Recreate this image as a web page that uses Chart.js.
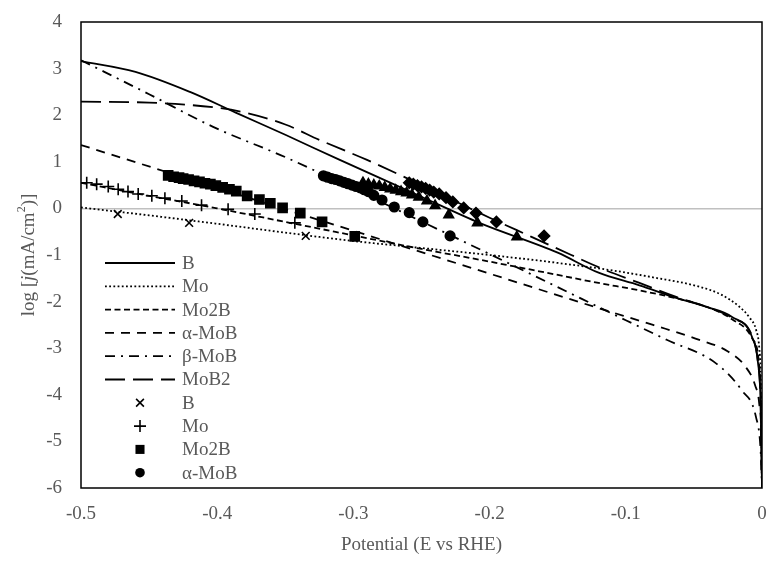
<!DOCTYPE html>
<html>
<head>
<meta charset="utf-8">
<script src="https://cdn.jsdelivr.net/npm/chart.js@4"></script>
<style>
  body { margin: 0; background: #fff; }
  #wrap { width: 770px; height: 561px; position: relative; }
</style>
</head>
<body>
<div id="wrap"><canvas id="myChart"></canvas></div>
<script>
// fitted curves, x = potential (V vs RHE), y = log j
const bX = [-0.5, -0.46, -0.42, -0.386, -0.35, -0.31, -0.25, -0.2075, -0.15, -0.12, -0.09, -0.063, -0.04, -0.022, -0.0073, -0.003, -0.001, 0];
const bY = [3.16, 2.93, 2.5, 2.05, 1.58, 1.04, 0.25, -0.31, -0.95, -1.38, -1.65, -1.92, -2.12, -2.33, -2.76, -3.3, -4.2, -6];

const moX = [-0.5, -0.45, -0.4, -0.35, -0.3, -0.25, -0.2, -0.15, -0.11, -0.08, -0.046, -0.03, -0.017, -0.009, -0.0044, -0.002, -0.001, 0];
const moY = [0.02, -0.15, -0.33, -0.52, -0.7, -0.85, -1.0, -1.17, -1.33, -1.48, -1.68, -1.85, -2.1, -2.35, -2.6, -3.0, -3.6, -6];

const mo2bX = [-0.5, -0.45, -0.4, -0.35, -0.3, -0.25, -0.2075, -0.16, -0.12, -0.09, -0.063, -0.04, -0.022, -0.007, -0.002, -0.0005, 0];
const mo2bY = [0.55, 0.27, 0.0, -0.29, -0.58, -0.87, -1.1, -1.37, -1.6, -1.76, -1.93, -2.12, -2.38, -2.8, -3.4, -4.5, -6];

const aMobX = [-0.5, -0.4, -0.3, -0.2, -0.12, -0.08, -0.046, -0.025, -0.012, -0.005, -0.002, -0.0005, 0];
const aMobY = [1.36, 0.44, -0.48, -1.4, -2.14, -2.5, -2.82, -3.07, -3.4, -3.8, -4.2, -4.9, -6];

const bMobX = [-0.5, -0.45, -0.403, -0.35, -0.3, -0.25, -0.2, -0.15, -0.1, -0.07, -0.034, -0.015, -0.0044, -0.001, 0];
const bMobY = [3.18, 2.45, 1.75, 1.1, 0.42, -0.28, -0.98, -1.69, -2.4, -2.82, -3.32, -3.9, -4.48, -5.2, -6];

const mob2X = [-0.5, -0.45, -0.4, -0.38, -0.35, -0.325, -0.29, -0.25, -0.2, -0.17, -0.14, -0.117, -0.09, -0.063, -0.04, -0.022, -0.007, -0.003, -0.001, 0];
const mob2Y = [2.29, 2.27, 2.16, 2.06, 1.8, 1.47, 1.04, 0.5, -0.2, -0.6, -1.0, -1.3, -1.6, -1.9, -2.12, -2.35, -2.76, -3.3, -4.2, -6];

// measured points
const bPtX = [-0.473, -0.4206, -0.335];
const bPtY = [-0.12, -0.31, -0.59];

const moPtX = [-0.4958, -0.4885, -0.48, -0.4727, -0.4655, -0.458, -0.448, -0.4384, -0.426, -0.4115, -0.392, -0.3724, -0.343];
const moPtY = [0.55, 0.52, 0.47, 0.41, 0.36, 0.31, 0.27, 0.22, 0.16, 0.07, -0.02, -0.12, -0.31];

const mo2bPtX = [-0.436, -0.432, -0.428, -0.425, -0.421, -0.417, -0.413, -0.409, -0.405, -0.401, -0.396, -0.391, -0.386, -0.378, -0.369, -0.361, -0.352, -0.339, -0.323, -0.299];
const mo2bPtY = [0.71, 0.68, 0.66, 0.64, 0.62, 0.59, 0.57, 0.54, 0.52, 0.49, 0.45, 0.41, 0.37, 0.27, 0.19, 0.11, 0.01, -0.10, -0.29, -0.60];

const aMobPtX = [-0.322, -0.319, -0.316, -0.313, -0.310, -0.307, -0.304, -0.301, -0.298, -0.295, -0.292, -0.289, -0.285, -0.279, -0.270, -0.259, -0.249, -0.229];
const aMobPtY = [0.70, 0.67, 0.64, 0.62, 0.59, 0.56, 0.53, 0.50, 0.47, 0.44, 0.40, 0.36, 0.28, 0.18, 0.03, -0.09, -0.29, -0.59];

const bMobPtX = [-0.293, -0.289, -0.285, -0.281, -0.277, -0.273, -0.269, -0.265, -0.261, -0.257, -0.252, -0.246, -0.240, -0.230, -0.209, -0.180];
const bMobPtY = [0.55, 0.52, 0.50, 0.48, 0.45, 0.42, 0.39, 0.36, 0.33, 0.29, 0.24, 0.16, 0.06, -0.14, -0.31, -0.61];

const mob2PtX = [-0.259, -0.256, -0.253, -0.250, -0.247, -0.244, -0.241, -0.237, -0.232, -0.227, -0.219, -0.210, -0.195, -0.160];
const mob2PtY = [0.55, 0.52, 0.49, 0.46, 0.43, 0.39, 0.35, 0.31, 0.23, 0.14, 0.01, -0.10, -0.29, -0.59];

function pts(xs, ys) {
  return xs.map((x, i) => ({ x: x, y: ys[i] }));
}

function curve(label, xs, ys, dash) {
  return {
    label: label, data: pts(xs, ys), showLine: true, inLegend: true,
    borderColor: '#000', borderWidth: 1.8, borderDash: dash,
    pointRadius: 0, cubicInterpolationMode: 'monotone', fill: false
  };
}

function marks(label, xs, ys, style, r, legend) {
  return {
    label: label, data: pts(xs, ys), showLine: false, inLegend: legend,
    pointStyle: style, pointRadius: r, pointBorderWidth: 1.6,
    backgroundColor: '#000', borderColor: '#000'
  };
}

Chart.defaults.font.family = '"Liberation Serif", "Times New Roman", serif';
Chart.defaults.font.size = 19;
Chart.defaults.color = '#595959';

function drawMarker(ctx, style, x, y, r, bw) {
  ctx.lineWidth = bw;
  ctx.beginPath();
  if (style === 'crossRot') {
    const d = r * Math.SQRT1_2;
    ctx.moveTo(x - d, y - d); ctx.lineTo(x + d, y + d);
    ctx.moveTo(x - d, y + d); ctx.lineTo(x + d, y - d);
    ctx.stroke();
  } else if (style === 'cross') {
    ctx.moveTo(x - r, y); ctx.lineTo(x + r, y);
    ctx.moveTo(x, y - r); ctx.lineTo(x, y + r);
    ctx.stroke();
  } else if (style === 'rect') {
    const s = r * Math.SQRT1_2;
    ctx.fillRect(x - s, y - s, 2 * s, 2 * s);
  } else {
    ctx.arc(x, y, r, 0, Math.PI * 2);
    ctx.fill();
  }
}

const boxPlugin = {
  id: 'box',
  beforeDatasetsDraw(chart) {
    const a = chart.chartArea, ctx = chart.ctx;
    ctx.save();
    ctx.strokeStyle = '#000';
    ctx.lineWidth = 1.5;
    ctx.strokeRect(a.left, a.top, a.right - a.left, a.bottom - a.top);
    ctx.restore();
  }
};

const legendPlugin = {
  id: 'innerLegend',
  afterDraw(chart) {
    const ctx = chart.ctx;
    let y = 263;
    ctx.save();
    ctx.font = '19px "Liberation Serif"';
    ctx.textBaseline = 'middle';
    chart.data.datasets.forEach(ds => {
      if (!ds.inLegend) return;
      ctx.strokeStyle = '#000';
      ctx.fillStyle = '#000';
      if (ds.showLine) {
        ctx.lineWidth = ds.borderWidth;
        ctx.setLineDash(ds.borderDash || []);
        ctx.beginPath();
        ctx.moveTo(105, y);
        ctx.lineTo(175, y);
        ctx.stroke();
        ctx.setLineDash([]);
      } else {
        drawMarker(ctx, ds.pointStyle, 140, y, ds.pointRadius, ds.pointBorderWidth);
      }
      ctx.fillStyle = '#595959';
      ctx.fillText(ds.label, 182, y + 1);
      y += 23.3;
    });
    ctx.restore();
  }
};

// y title with italic j and superscript 2
const yTitlePlugin = {
  id: 'yTitle',
  afterDraw(chart) {
    const ctx = chart.ctx;
    const parts = [
      { t: 'log [', f: '19px "Liberation Serif"', dy: 0 },
      { t: 'j', f: 'italic 19px "Liberation Serif"', dy: 0 },
      { t: '(mA/cm', f: '19px "Liberation Serif"', dy: 0 },
      { t: '2', f: '12px "Liberation Serif"', dy: -7 },
      { t: ')]', f: '19px "Liberation Serif"', dy: 0 }
    ];
    ctx.save();
    let w = 0;
    parts.forEach(p => { ctx.font = p.f; p.w = ctx.measureText(p.t).width; w += p.w; });
    ctx.translate(29, (chart.chartArea.top + chart.chartArea.bottom) / 2);
    ctx.rotate(-Math.PI / 2);
    ctx.fillStyle = '#595959';
    ctx.textBaseline = 'middle';
    let x = -w / 2;
    parts.forEach(p => { ctx.font = p.f; ctx.fillText(p.t, x, p.dy); x += p.w; });
    ctx.restore();
  }
};

const config = {
  type: 'scatter',
  data: {
    datasets: [
      curve('B', bX, bY, []),
      curve('Mo', moX, moY, [1.8, 2.4]),
      curve('Mo2B', mo2bX, mo2bY, [6, 3.5]),
      curve('α-MoB', aMobX, aMobY, [9, 7]),
      curve('β-MoB', bMobX, bMobY, [10, 6, 2, 6]),
      curve('MoB2', mob2X, mob2Y, [20, 8]),
      marks('B', bPtX, bPtY, 'crossRot', 5.5, true),
      marks('Mo', moPtX, moPtY, 'cross', 6, true),
      marks('Mo2B', mo2bPtX, mo2bPtY, 'rect', 6.4, true),
      marks('α-MoB', aMobPtX, aMobPtY, 'circle', 4.8, true),
      marks('β-MoB', bMobPtX, bMobPtY, 'triangle', 5.5, false),
      marks('MoB2', mob2PtX, mob2PtY, 'rectRot', 5.5, false)
    ]
  },
  options: {
    responsive: true,
    maintainAspectRatio: false,
    animation: false,
    layout: { padding: { top: 22, right: 7, left: 0, bottom: 0 } },
    plugins: {
      legend: { display: false },
      tooltip: { enabled: false }
    },
    scales: {
      x: {
        type: 'linear', min: -0.5, max: 0,
        afterFit: s => { s.height = 73; s.paddingLeft = 0; s.paddingRight = 0; },
        grid: { display: false, drawTicks: false },
        border: { display: false },
        ticks: {
          stepSize: 0.1, padding: 15,
          callback: v => Math.abs(v) < 1e-9 ? '0' : v.toFixed(1)
        },
        title: { display: true, text: 'Potential (E vs RHE)', padding: { top: 0, bottom: 5 } }
      },
      y: {
        min: -6, max: 4,
        afterFit: s => { s.width = 81; s.paddingTop = 0; s.paddingBottom = 0; },
        grid: {
          drawTicks: false,
          color: c => c.tick.value === 0 ? '#c0c0c0' : 'rgba(0,0,0,0)',
          lineWidth: 1.5
        },
        border: { display: false },
        ticks: { stepSize: 1, padding: 19 }
      }
    }
  },
  plugins: [boxPlugin, legendPlugin, yTitlePlugin]
};

var ctx = document.getElementById('myChart').getContext('2d');
grafica = new Chart(ctx, config);
</script>
</body>
</html>
